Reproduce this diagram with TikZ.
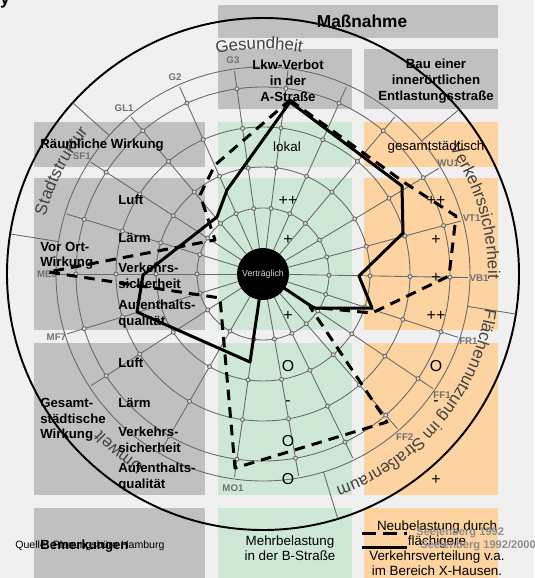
\documentclass[tikz,border=0pt]{standalone}
\usepackage{fontspec}
\setmainfont{Liberation Sans}
\usetikzlibrary{calc,decorations.text}
\definecolor{paper}{RGB}{240,240,240}
\definecolor{cellgray}{RGB}{192,192,192}
\definecolor{cellgreen}{RGB}{207,232,213}
\definecolor{cellorange}{RGB}{253,211,161}
\definecolor{webline}{RGB}{105,105,105}
\definecolor{labelgray}{RGB}{65,65,65}

\begin{document}
\begin{tikzpicture}[x=0.567pt,y=0.567pt,
  head node/.style={font=\fontsize{7.5}{9}\selectfont\bfseries,align=center},
  row node/.style={font=\fontsize{7.5}{8.8}\selectfont\bfseries,align=left,anchor=west,inner sep=0pt},
  cell node/.style={font=\fontsize{7.6}{8.6}\selectfont,align=center},
  rating/.style={font=\fontsize{9}{9}\selectfont},
  axis label/.style={font=\fontsize{5.5}{5.5}\selectfont\bfseries,text=labelgray!75,inner sep=0pt},
  legend text/.style={font=\fontsize{6.3}{6.3}\selectfont\bfseries,text=labelgray!60,anchor=west,inner sep=0pt},
  web/.style={webline,line width=0.5pt},
  rating line/.style={line width=1.7pt,line join=round},
  sector/.style={decorate,decoration={text along path,text align=center,
    text={|\fontsize{9.5}{9.5}\selectfont\color{labelgray}|#1}}}]

  % table
  \fill[paper] (0,0) rectangle (534,-578);
  \useasboundingbox (0,0) rectangle (534,-578);
  \fill[cellgray] (218,-5) rectangle (498,-38);
  \fill[cellgray] (218,-49) rectangle (352,-109);
  \fill[cellgray] (364,-49) rectangle (498,-109);
  \foreach \t/\b in {122/167,178/330,343/495,508/578}{
    \fill[cellgray] (34,-\t) rectangle (205,-\b);
    \fill[cellgreen] (218,-\t) rectangle (352,-\b);
    \fill[cellorange] (364,-\t) rectangle (498,-\b);
  }

  % web
  \coordinate (c) at (263,-274);
  \foreach \r in {66,107,147,187,207}
    \draw[web] (c) circle[radius=\r];
  \draw[line width=1.1pt] (c) circle[radius=256];
  \foreach \a in {40,138,171,287,351}
    \draw[web] ($(c)+(\a:207)$) -- ($(c)+(\a:256)$);
  \foreach \a in {50,66,83,163,213,240,280,296}
    \draw[web] (c) -- ($(c)+(\a:205)$);
  \foreach \a/\n/\t in {98/g3/G3,114/g2/G2,130/gl1/GL1,147/sf1/SF1,180/me3/ME3,
      197/mf7/MF7,262/mo1/MO1,311/ff2/FF2,326/ff1/FF1,342/fr1/FR1,359/vb1/VB1,
      15/vt1/VT1,31/wu1/WU1}{
    \coordinate (\n) at ($(c)+(\a:205)$);
    \draw[web] (c) -- (\n);
    \node[axis label] (\n l) at ($(c)+(\a:216)$) {\t};
  }
  \foreach \a in {50,66,83,98,114,130,147,163,180,197,213,240,262,280,296,311,326,342,359,15,31}
    \foreach \r in {66,107,147,187}
      \draw[web,fill=cellgray!60] ($(c)+(\a:\r)$) circle[radius=2];

  % ratings
  \draw[rating line,dash pattern=on 6 off 4] (290,-100) -- (405,-183) -- (456,-216)
    -- (449,-276) -- (372,-313) -- (310,-307) -- (387,-422) -- (235,-468)
    -- (220,-298) -- (48,-272) -- (215,-240) -- (200,-195) -- (215,-165) -- cycle;
  \draw[rating line] (290,-102) -- (402,-186) -- (403,-233) -- (359,-276)
    -- (372,-308) -- (314,-308) -- (c) -- (250,-362) -- (137,-312) -- (143,-275)
    -- (217,-217) -- (227,-190) -- cycle;
  \fill[black] (c) circle[radius=26];
  \node[font=\fontsize{5}{5}\selectfont,text=white!85!black] (ok) at (c) {Verträglich};

  % sectors
  \path[sector=Gesundheit] ($(c)+(131:225)$) arc[start angle=131,end angle=51,radius=225];
  \path[sector=Verkehrssicherheit] ($(c)+(60:225)$) arc[start angle=60,end angle=-27,radius=225];
  \path[sector={Flächennutzung im Straßenraum}] ($(c)+(365:225)$) arc[start angle=365,end angle=275,radius=225];
  \path[sector=Umwelt] ($(c)+(271:225)$) arc[start angle=271,end angle=191,radius=225];
  \path[sector=Stadtstruktur] ($(c)+(193:225)$) arc[start angle=193,end angle=113,radius=225];

  % texts
  \node[font=\bfseries\fontsize{10}{10}\selectfont,anchor=base] (yy) at (5,-5) {y};
  \node[font=\fontsize{9.8}{10}\selectfont\bfseries] (massnahme) at (362,-21) {Maßnahme};
  \node[head node] (lkw) at (288,-81) {Lkw-Verbot\\in der\\A-Straße};
  \node[head node] (bau) at (436,-81) {Bau einer\\innerörtlichen\\Entlastungsstraße};

  \node[row node] (raeum) at (40,-145) {Räumliche Wirkung};
  \node[row node] (vorort) at (40,-256) {Vor Ort-\\Wirkung};
  \node[row node] (gesamt) at (40,-420) {Gesamt-\\städtische\\Wirkung};
  \foreach \y/\n/\t in {200/luft1/Luft,238/laerm1/Lärm,276/vs1/{Verkehrs-\\sicherheit},
      314/aq1/{Aufenthalts-\\qualität},363/luft2/Luft,403/laerm2/Lärm,
      440/vs2/{Verkehrs-\\sicherheit},477/aq2/{Aufenthalts-\\qualität}}
    \node[row node] (\n) at (118,-\y) {\t};

  \node[cell node] (lokal) at (287,-147) {lokal};
  \node[cell node] (gesst) at (436,-147) {gesamtstädtisch};
  \foreach \y/\n/\t in {201/a1/++,240/a2/+,316/a4/+,366/a5/O,403/a6/-,441/a7/O,479/a8/O}
    \node[rating] (\n) at (288,-\y) {\t};
  \foreach \y/\n/\t in {201/b1/++,240/b2/+,278/b3/+,316/b4/++,366/b5/O,403/b6/-,480/b8/+}
    \node[rating] (\n) at (436,-\y) {\t};

  \node[font=\fontsize{6}{6}\selectfont,anchor=west,inner sep=0pt] (quelle) at (15,-546) {Quelle: Planungsbüro Hamburg};
  \node[row node] (bem) at (40,-546) {Bemerkungen};
  \node[cell node] (mehr) at (290,-548) {Mehrbelastung\\in der B-Straße};
  \node[cell node] (neu) at (437,-548) {Neubelastung durch\\flächigere\\Verkehrsverteilung v.a.\\im Bereich X-Hausen.};

  % legend
  \coordinate (d1) at (362,-533);
  \coordinate (d2) at (407,-533);
  \coordinate (s1) at (362,-547);
  \coordinate (s2) at (407,-547);
  \draw[rating line,dash pattern=on 8 off 4] (d1) -- (d2);
  \draw[rating line] (s1) -- (s2);
  \node[legend text] (leg1) at (416,-533) {Seelenberg 1992};
  \node[legend text] (leg2) at (420,-546) {Seelenberg 1992/2000};
\end{tikzpicture}
\end{document}
